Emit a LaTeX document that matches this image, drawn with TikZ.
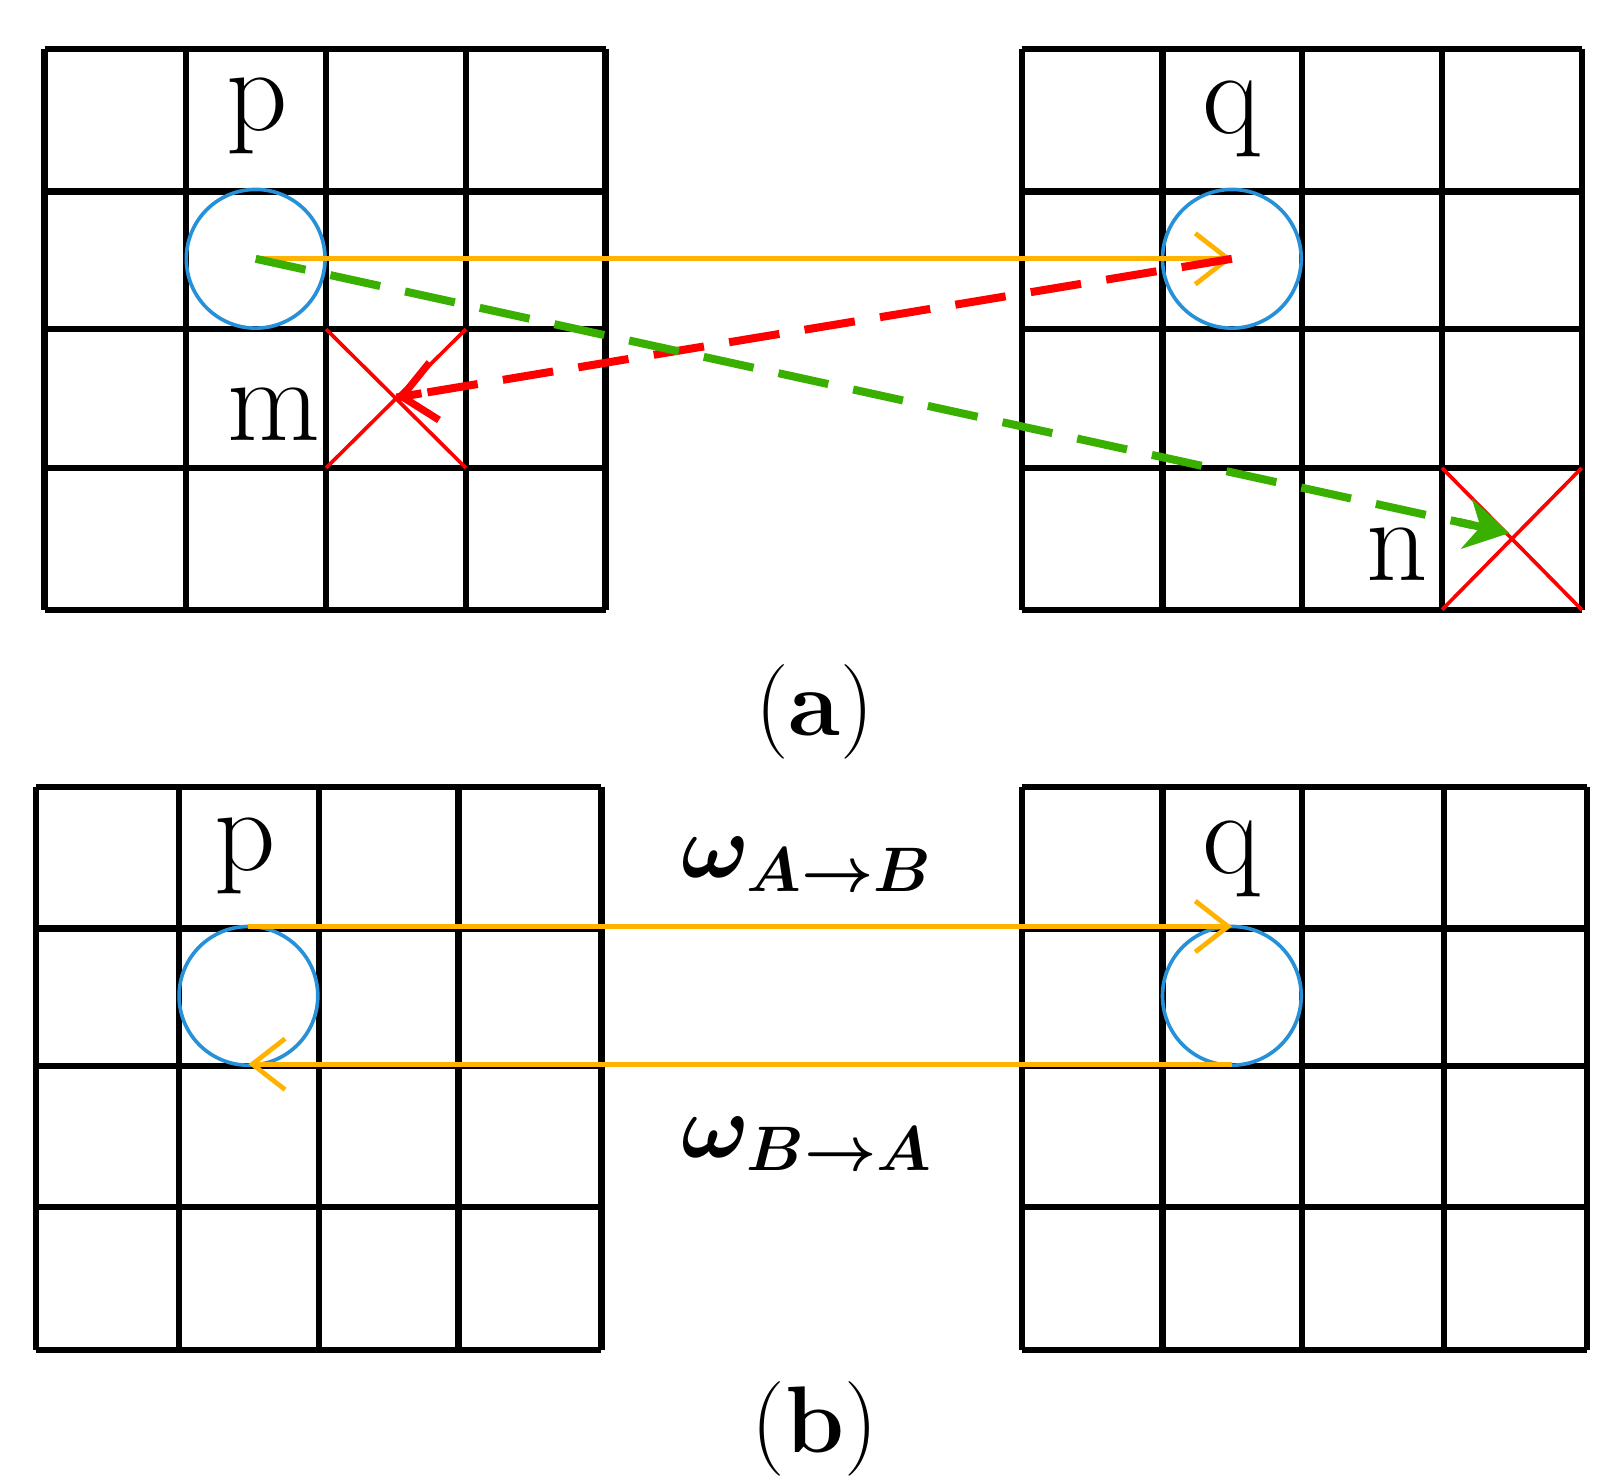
\documentclass[tikz,border=0pt]{standalone}
\usepackage{amsmath,bm}
\usetikzlibrary{arrows.meta,calc}
\begin{document}
\begin{tikzpicture}[x=0.01cm,y=-0.01cm,
  grid/.style={line width=1.7pt},
  circ/.style={draw=blue!40!cyan!70!gray,line width=1pt},
  yarr/.style={draw=orange!60!yellow,line width=1.3pt,-{Straight Barb[length=9pt,width=14pt,line width=1.3pt]}},
  cross/.style={red,line width=1pt},
  lbl/.style={font=\fontsize{33}{40}\selectfont},
  captxt/.style={font=\fontsize{26}{32}\selectfont},
  wl/.style={font=\fontsize{26}{32}\selectfont}]
\useasboundingbox (0,0) rectangle (1563,1431);
% panel a grids
\foreach \x in {43,180,315,450,585} \draw[grid] (\x,47) -- (\x,589);
\foreach \y in {47,185,318,452,589} \draw[grid] (43,\y) -- (585,\y);
\foreach \x in {987,1123,1258,1393,1528} \draw[grid] (\x,47) -- (\x,589);
\foreach \y in {47,185,318,452,589} \draw[grid] (987,\y) -- (1528,\y);
\node[lbl] (p1) at (248,112) {p};
\node[lbl] (q1) at (1190,115) {q};
\node[lbl] (m1) at (265,400) {m};
\node[lbl] (n1) at (1350,535) {n};
\draw[circ] (247,250) circle (67);
\draw[circ] (1190,250) circle (67);
\coordinate (pa) at (247,250);
\coordinate (qa) at (1190,250);
\coordinate (ma) at (383,384);
\coordinate (na) at (1458,515);
\draw[cross] (315,318) -- (450,452) (315,452) -- (450,318);
\draw[cross] (1393,452) -- (1528,589) (1393,589) -- (1528,452);
\draw[yarr] (pa) -- (qa);
\draw[red,line width=2.2pt,dash pattern=on 14pt off 7pt] (qa) -- (ma);
\draw[red,line width=2.2pt,-{Straight Barb[length=9pt,width=16pt,line width=2pt]}] ($(ma)!0.03!(qa)$) -- (ma);
\draw[green!55!black!70!lime,line width=2.2pt,dash pattern=on 14pt off 7pt] (pa) -- ($(pa)!0.97!(na)$);
\draw[green!55!black!70!lime,line width=2.2pt,-{Stealth[length=12pt,width=14pt]}] ($(pa)!0.96!(na)$) -- (na);
\node[captxt] (ca) at (787,688) {(\textbf{a})};
% panel b grids
\foreach \x in {35,173,308,443,581} \draw[grid] (\x,760) -- (\x,1304);
\foreach \y in {760,897,1030,1166,1304} \draw[grid] (35,\y) -- (581,\y);
\foreach \x in {987,1123,1258,1395,1533} \draw[grid] (\x,760) -- (\x,1304);
\foreach \y in {760,897,1030,1166,1304} \draw[grid] (987,\y) -- (1533,\y);
\node[lbl] (p2) at (237,827) {p};
\node[lbl] (q2) at (1190,830) {q};
\draw[circ] (240,962) circle (67);
\draw[circ] (1190,962) circle (67);
\coordinate (pt) at (240,895);
\coordinate (qt) at (1190,895);
\coordinate (pb) at (240,1028);
\coordinate (qb) at (1190,1028);
\draw[yarr] (pt) -- (qt);
\draw[yarr] (qb) -- (pb);
\node[wl] (wab) at (780,835) {$\bm{\omega_{A\rightarrow B}}$};
\node[wl] (wba) at (780,1105) {$\bm{\omega_{B\rightarrow A}}$};
\node[captxt] (cb) at (787,1380) {(\textbf{b})};
\end{tikzpicture}
\end{document}
